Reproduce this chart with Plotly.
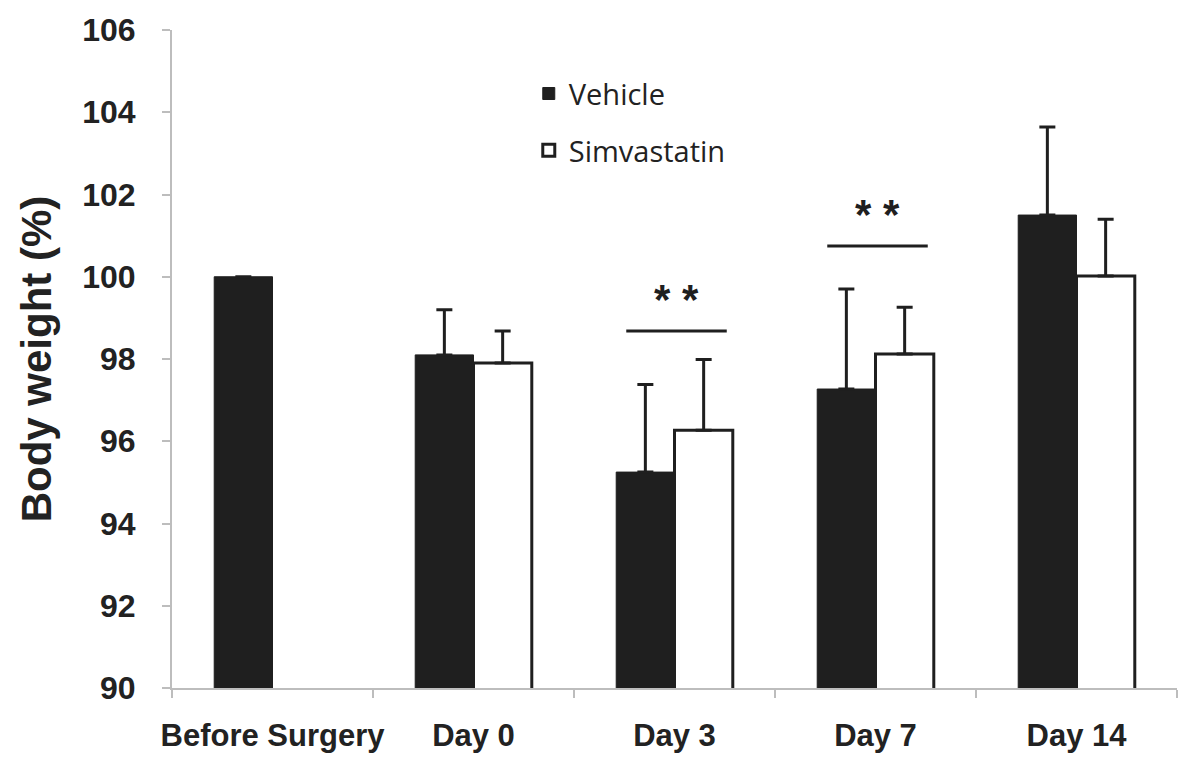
import plotly.graph_objects as go

categories = ["Before Surgery", "Day 0", "Day 3", "Day 7", "Day 14"]
vehicle = [100.0, 98.1, 95.25, 97.27, 101.5]
vehicle_err = [0, 1.1, 2.13, 2.43, 2.14]
simvastatin = [None, 97.9, 96.27, 98.12, 100.02]
simvastatin_err = [0, 0.78, 1.72, 1.14, 1.38]

# significance brackets: category index, line height, star height
sig_index = [2, 3]
sig_line = [98.68, 100.75]
sig_star = [99.45, 101.52]
sig_text = ["* *", "* *"]

dark = "#1f1f1f"
axis_col = "#bdbdbd"

fig = go.Figure()
fig.add_trace(go.Bar(
    x=categories, y=vehicle, name="Vehicle", legendgroup="v",
    marker=dict(color=dark, line=dict(color=dark, width=1)),
    error_y=dict(type="data", symmetric=False, array=vehicle_err,
                 arrayminus=[0] * len(vehicle_err), color=dark, thickness=3, width=8),
))
fig.add_trace(go.Bar(
    x=categories, y=simvastatin, name="Simvastatin", legendgroup="s",
    marker=dict(color="white", line=dict(color=dark, width=3)),
    error_y=dict(type="data", symmetric=False, array=simvastatin_err,
                 arrayminus=[0] * len(simvastatin_err), color=dark, thickness=3, width=8),
))

for i, yl, ys, t in zip(sig_index, sig_line, sig_star, sig_text):
    fig.add_shape(type="line", xref="x", yref="y", x0=i - 0.24, x1=i + 0.26,
                  y0=yl, y1=yl, line=dict(color=dark, width=3))
    fig.add_annotation(x=i + 0.01, y=ys, xref="x", yref="y", text=t, showarrow=False,
                       font=dict(family="Liberation Sans", size=42, color=dark, weight="bold"))

fig.update_layout(
    width=1200, height=771,
    margin=dict(l=164, r=31, t=22, b=91),
    plot_bgcolor="white", paper_bgcolor="white",
    barmode="group", bargap=0.42, bargroupgap=0,
    showlegend=True,
    legend=dict(x=0.355, y=0.942, xanchor="left", yanchor="top",
                bgcolor="rgba(0,0,0,0)", tracegroupgap=16,
                font=dict(family="Open Sans", size=29, color="#222")),
    font=dict(family="Liberation Sans", color="#222"),
)
fig.update_xaxes(
    type="category", showline=True, linecolor=axis_col, linewidth=2,
    ticks="outside", tickson="boundaries", ticklen=8, tickcolor=axis_col, tickwidth=2,
    tickfont=dict(family="Liberation Sans", size=31, color="#222", weight="bold"),
    tickangle=0, automargin=False,
    ticklabelstandoff=19, showgrid=False, zeroline=False,
)
fig.update_yaxes(
    range=[90, 106], dtick=2, tick0=90,
    showline=True, linecolor=axis_col, linewidth=2,
    ticks="outside", ticklen=8, tickcolor=axis_col, tickwidth=2,
    tickfont=dict(family="Liberation Sans", size=32, color="#222", weight="bold"),
    automargin=False,
    ticklabelstandoff=20, showgrid=False, zeroline=False,
    title=dict(text="Body weight (%)", standoff=18,
               font=dict(family="Liberation Sans", size=42, color="#222", weight="bold")),
)

fig.write_html("out.html")
